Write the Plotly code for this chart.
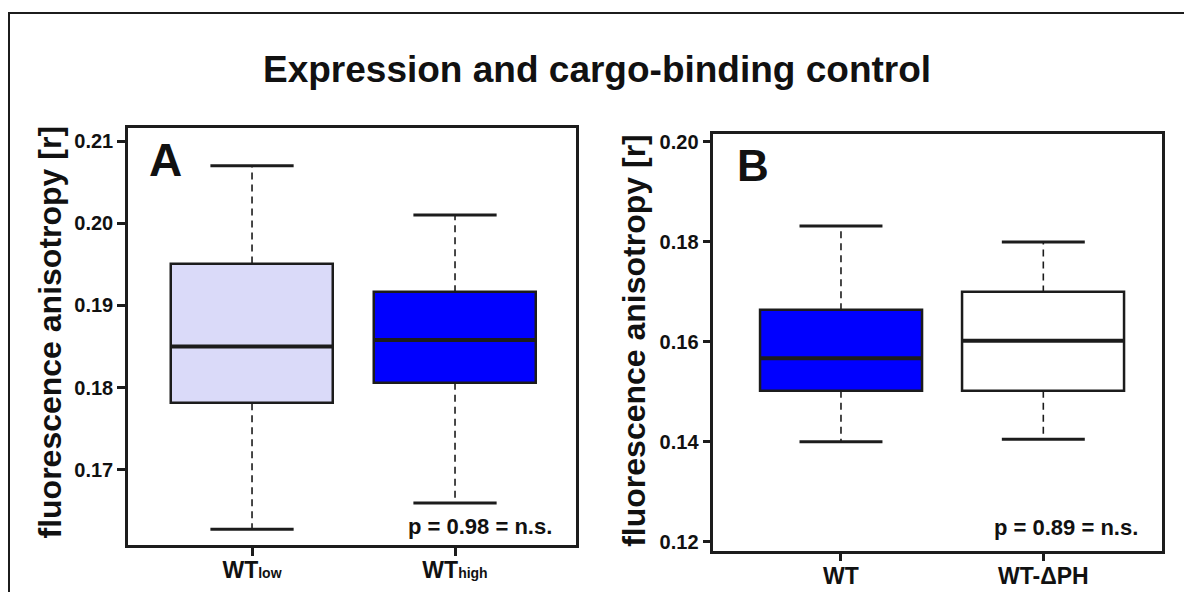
import plotly.graph_objects as go

# ---- data -------------------------------------------------------------
# Panel A: expression level
labels_a = ["WT<span style='font-size:14px'>low</span>",
            "WT<span style='font-size:14px'>high</span>"]
a_lower = [0.1628, 0.1660]
a_q1 = [0.1781, 0.1806]
a_median = [0.1850, 0.1858]
a_q3 = [0.1951, 0.1916]
a_upper = [0.2070, 0.2010]
a_fill = ["#DADAF9", "#0000FF"]
a_pvalue = "p = 0.98 = n.s."

# Panel B: cargo-binding control
labels_b = ["WT", "WT-ΔPH"]
b_lower = [0.1400, 0.1405]
b_q1 = [0.1502, 0.1502]
b_median = [0.1567, 0.1602]
b_q3 = [0.1663, 0.1699]
b_upper = [0.1832, 0.1800]
b_fill = ["#0000FF", "#FFFFFF"]
b_pvalue = "p = 0.89 = n.s."

title_text = "Expression and cargo-binding control"
ytitle = "fluorescence anisotropy [r]"

# ---- styling ------------------------------------------------------------
W, H = 1184, 592
FONT = "Liberation Sans, Arial, Helvetica, sans-serif"
INK = "#1c1c1c"
BOX_W = 0.8
CAP_W = 0.41


def px_x(v):
    return v / W


def px_y(v):
    return 1 - v / H


fig = go.Figure()


def add_boxes(xa, ya, lower, q1, med, q3, upper, fills):
    idx = list(range(len(q1)))
    fig.add_trace(go.Bar(
        x=idx, base=q1, y=[h - l for h, l in zip(q3, q1)],
        width=BOX_W, marker=dict(color=fills, line=dict(color=INK, width=2.5)),
        xaxis=xa, yaxis=ya, showlegend=False, hoverinfo="skip"))
    wx, wy = [], []
    for i in idx:
        wx += [i, i, None, i, i, None]
        wy += [q3[i], upper[i], None, q1[i], lower[i], None]
    fig.add_trace(go.Scatter(
        x=wx, y=wy, mode="lines", line=dict(color=INK, width=1.6, dash="7px,5px"),
        xaxis=xa, yaxis=ya, showlegend=False, hoverinfo="skip"))
    cx, cy = [], []
    for i in idx:
        cx += [i - CAP_W / 2, i + CAP_W / 2, None, i - CAP_W / 2, i + CAP_W / 2, None]
        cy += [upper[i], upper[i], None, lower[i], lower[i], None]
    fig.add_trace(go.Scatter(
        x=cx, y=cy, mode="lines", line=dict(color=INK, width=3),
        xaxis=xa, yaxis=ya, showlegend=False, hoverinfo="skip"))
    mx, my = [], []
    for i in idx:
        mx += [i - BOX_W / 2, i + BOX_W / 2, None]
        my += [med[i], med[i], None]
    fig.add_trace(go.Scatter(
        x=mx, y=my, mode="lines", line=dict(color=INK, width=4),
        xaxis=xa, yaxis=ya, showlegend=False, hoverinfo="skip"))


add_boxes("x", "y", a_lower, a_q1, a_median, a_q3, a_upper, a_fill)
add_boxes("x2", "y2", b_lower, b_q1, b_median, b_q3, b_upper, b_fill)

axis_common = dict(showline=True, mirror=True, linecolor=INK, linewidth=2.5,
                   ticks="outside", ticklen=8, tickwidth=2.5, tickcolor=INK,
                   showgrid=False, zeroline=False, automargin=False)

fig.update_layout(
    width=W, height=H,
    margin=dict(l=0, r=0, t=0, b=0),
    paper_bgcolor="white", plot_bgcolor="white",
    font=dict(family=FONT, color="#111111"),
    bargap=0,
    xaxis=dict(domain=[px_x(128), px_x(576)], range=[-0.611, 1.596],
               tickvals=[0, 1], ticktext=labels_a, anchor="y", ticklabelstandoff=-5,
               tickfont=dict(size=23, weight="bold", family=FONT), **axis_common),
    yaxis=dict(domain=[px_y(545), px_y(128)], range=[0.16088, 0.21158],
               tick0=0, dtick=0.01, tickformat=".2f", anchor="x",
               tickfont=dict(size=20, weight="bold", family=FONT), **axis_common),
    xaxis2=dict(domain=[px_x(713.3), px_x(1162.3)], range=[-0.631, 1.588],
                tickvals=[0, 1], ticktext=labels_b, anchor="y2", ticklabelstandoff=-5,
                tickfont=dict(size=23, weight="bold", family=FONT), **axis_common),
    yaxis2=dict(domain=[px_y(550.7), px_y(134)], range=[0.1182, 0.2016],
                tick0=0, dtick=0.02, tickformat=".2f", anchor="x2",
                tickfont=dict(size=20, weight="bold", family=FONT), **axis_common),
)

# outer frame around the figure
fig.add_shape(type="rect", xref="paper", yref="paper",
              x0=px_x(9), x1=1.02, y0=-0.02, y1=px_y(13),
              line=dict(color=INK, width=2), layer="below")


def note(text, x, y, size, xanchor="center", angle=0):
    fig.add_annotation(text=text, x=px_x(x), y=px_y(y), xref="paper", yref="paper",
                       xanchor=xanchor, yanchor="middle", showarrow=False,
                       textangle=angle,
                       font=dict(size=size, family=FONT, weight="bold", color="#111111"))


note(title_text, 596.7, 70, 37)
note(ytitle, 49, 332.5, 32, angle=-90)
note(ytitle, 634, 340.8, 32, angle=-90)
note("A", 147, 159.7, 46, xanchor="left")
note("B", 735, 165.8, 44, xanchor="left")
note(a_pvalue, 554, 526.3, 22, xanchor="right")
note(b_pvalue, 1140, 527, 22, xanchor="right")

fig.write_html("out.html")
